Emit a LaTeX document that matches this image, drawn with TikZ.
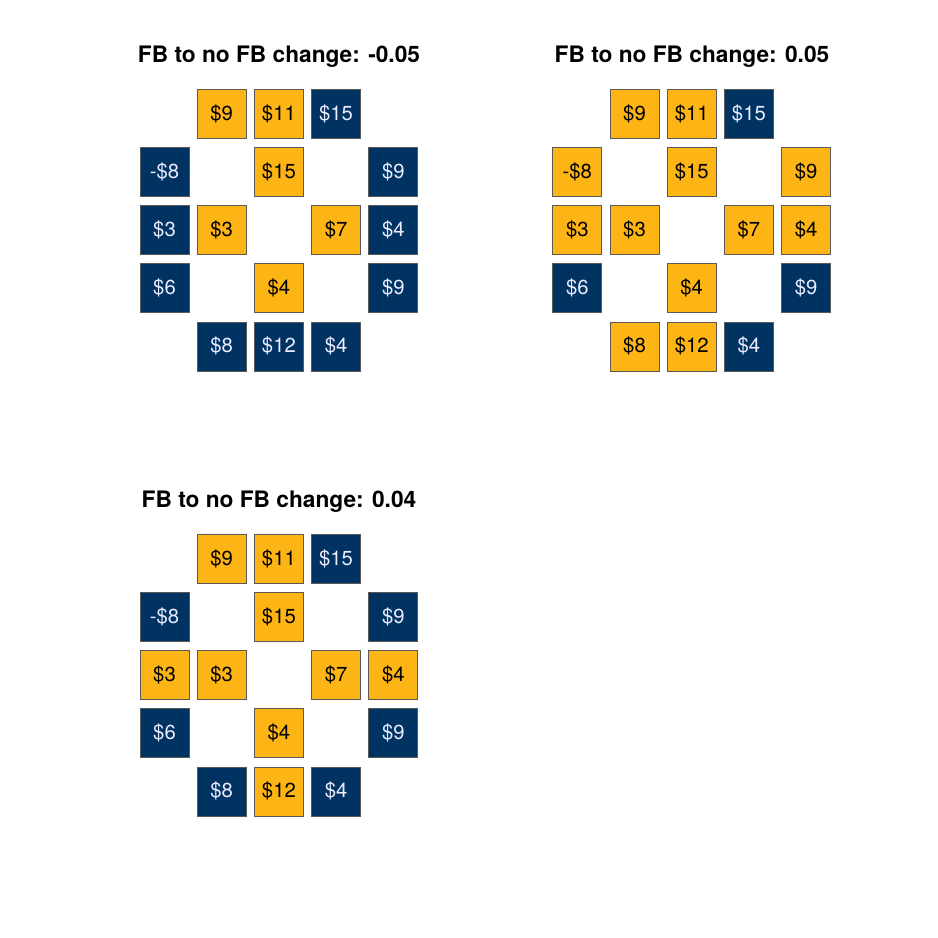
\documentclass[tikz,border=0pt]{standalone}
\usepackage{fontspec}
\setmainfont{TeX Gyre Heros}
\definecolor{fbgold}{HTML}{FDB515}
\definecolor{fbnavy}{HTML}{003262}
\begin{document}
\begin{tikzpicture}[x=1pt, y=-1pt,
    tile/.style={draw=black!65, line width=0.7pt, minimum size=49pt, inner sep=0pt,
      font=\fontsize{20.3}{20}\selectfont},
    gold/.style={tile, fill=fbgold, text=black},
    navy/.style={tile, fill=fbnavy, text=white!92!blue},
    paneltitle/.style={anchor=base, font=\bfseries\fontsize{22.7}{22}\selectfont}]
    \useasboundingbox (0,0) rectangle (938,938);
    % panel A, top left
    \node[paneltitle] (titleA) at (279,62) {FB to no FB change: -0.05};
    \foreach \c/\r/\v/\s [count=\i] in {2/1/\$9/gold, 3/1/\$11/gold, 4/1/\$15/navy,
        1/2/-\$8/navy, 3/2/\$15/gold, 5/2/\$9/navy,
        1/3/\$3/navy, 2/3/\$3/gold, 4/3/\$7/gold, 5/3/\$4/navy,
        1/4/\$6/navy, 3/4/\$4/gold, 5/4/\$9/navy,
        2/5/\$8/navy, 3/5/\$12/navy, 4/5/\$4/navy}
        \node[\s] (A\i) at ({164.5+57.2*(\c-1)}, {114+58.1*(\r-1)}) {\v};
    % panel B, top right
    \node[paneltitle] (titleB) at (692,62) {FB to no FB change: 0.05};
    \foreach \c/\r/\v/\s [count=\i] in {2/1/\$9/gold, 3/1/\$11/gold, 4/1/\$15/navy,
        1/2/-\$8/gold, 3/2/\$15/gold, 5/2/\$9/gold,
        1/3/\$3/gold, 2/3/\$3/gold, 4/3/\$7/gold, 5/3/\$4/gold,
        1/4/\$6/navy, 3/4/\$4/gold, 5/4/\$9/navy,
        2/5/\$8/gold, 3/5/\$12/gold, 4/5/\$4/navy}
        \node[\s] (B\i) at ({577.3+57.2*(\c-1)}, {114+58.1*(\r-1)}) {\v};
    % panel C, bottom left
    \node[paneltitle] (titleC) at (279,507) {FB to no FB change: 0.04};
    \foreach \c/\r/\v/\s [count=\i] in {2/1/\$9/gold, 3/1/\$11/gold, 4/1/\$15/navy,
        1/2/-\$8/navy, 3/2/\$15/gold, 5/2/\$9/navy,
        1/3/\$3/gold, 2/3/\$3/gold, 4/3/\$7/gold, 5/3/\$4/gold,
        1/4/\$6/navy, 3/4/\$4/gold, 5/4/\$9/navy,
        2/5/\$8/navy, 3/5/\$12/gold, 4/5/\$4/navy}
        \node[\s] (C\i) at ({164.5+57.2*(\c-1)}, {559+58.1*(\r-1)}) {\v};
\end{tikzpicture}
\end{document}
